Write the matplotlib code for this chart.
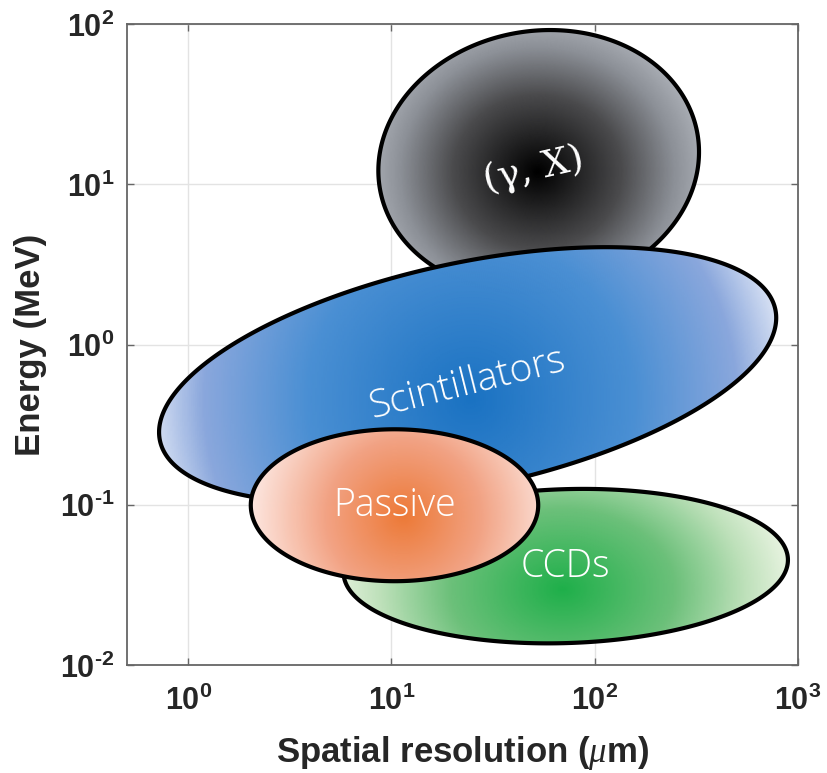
import numpy as np
import matplotlib

matplotlib.use("Agg")
import matplotlib.pyplot as plt
from matplotlib.colors import LinearSegmentedColormap
from matplotlib.patches import Polygon

plt.rcParams["mathtext.fontset"] = "custom"
plt.rcParams["mathtext.bf"] = "Liberation Sans:bold"
plt.rcParams["mathtext.rm"] = "Liberation Sans:bold"
plt.rcParams["mathtext.it"] = "Liberation Serif:italic"

# Detector regions, back to front. Centres in (um, MeV); half-axes in decades,
# tilt measured in log-log space.
names = ["(γ, X)", "Scintillators", "CCDs", "Passive"]
centre_um = [53.0, 23.7, 72.0, 10.35]
centre_mev = [13.9, 0.645, 0.0414, 0.0993]
half_w_dec = [0.836, 1.57, 1.094, 0.707]
half_h_dec = [0.771, 0.69, 0.48, 0.474]
tilt_deg = [59.0, 16.5, 2.5, 0.0]

# Where each shading peaks, and how far (decades in x, y) it takes to fade out
glow_um = [52.4, 24.5, 69.5, 11.5]
glow_mev = [12.0, 0.454, 0.0298, 0.0848]
glow_rx = [0.82, 1.60, 1.10, 0.75]
glow_ry = [0.95, 2.00, 1.00, 0.95]

shades = [
    ["#000000", "#4a4a4c", "#8c9097", "#a9adb4"],
    ["#1a72c2", "#4a8fd3", "#8aa7dc", "#e2e9f7"],
    ["#1faf4a", "#6cc07a", "#bfe1bb", "#e3f1dc"],
    ["#ed7a38", "#f2a283", "#f9cfc0", "#fde6df"],
]
shade_stops = [0.0, 0.5, 0.82, 1.0]

# Label placement (um, MeV), rotation, size
label_um = [50.1, 23.9, 72.0, 10.3]
label_mev = [12.3, 0.57, 0.041, 0.098]
label_rot = [13, 14, 0, 0]
label_size = [27, 28, 27, 27]

x_ticks = [1, 10, 100, 1000]
x_tick_labels = [r"$\mathbf{10^{0}}$", r"$\mathbf{10^{1}}$", r"$\mathbf{10^{2}}$", r"$\mathbf{10^{3}}$"]
y_ticks = [0.01, 0.1, 1, 10, 100]
y_tick_labels = [r"$\mathbf{10^{‐2}}$", r"$\mathbf{10^{‐1}}$", r"$\mathbf{10^{0}}$",
                 r"$\mathbf{10^{1}}$", r"$\mathbf{10^{2}}$"]

AXIS_GREY = "#262626"
SPINE_GREY = "#666666"


def ellipse_outline(cx, cy, hw, hh, tilt, n=500):
    t = np.linspace(0, 2 * np.pi, n)
    u, v = hw * np.cos(t), hh * np.sin(t)
    a = np.deg2rad(tilt)
    lx = np.log10(cx) + u * np.cos(a) - v * np.sin(a)
    ly = np.log10(cy) + u * np.sin(a) + v * np.cos(a)
    return 10 ** lx, 10 ** ly


fig = plt.figure(figsize=(8.27, 7.73), dpi=100, facecolor="white")
ax = fig.add_axes([127 / 827, 108 / 773, 671 / 827, 641 / 773])
ax.set_xscale("log")
ax.set_yscale("log")
ax.set_xlim(0.5, 1000)
ax.set_ylim(0.01, 100)

for i, name in enumerate(names):
    xs, ys = ellipse_outline(centre_um[i], centre_mev[i], half_w_dec[i], half_h_dec[i], tilt_deg[i])
    z = 2 + 2 * i
    outline = Polygon(np.column_stack([xs, ys]), closed=True, facecolor="none",
                      edgecolor="black", lw=3.0, zorder=z + 1)
    ax.add_patch(outline)

    lx = np.linspace(np.log10(xs.min()) - 0.05, np.log10(xs.max()) + 0.05, 300)
    ly = np.linspace(np.log10(ys.min()) - 0.05, np.log10(ys.max()) + 0.05, 300)
    LX, LY = np.meshgrid(lx, ly)
    r = np.hypot((LX - np.log10(glow_um[i])) / glow_rx[i], (LY - np.log10(glow_mev[i])) / glow_ry[i])
    cmap = LinearSegmentedColormap.from_list(f"shade{i}", list(zip(shade_stops, shades[i])))
    mesh = ax.pcolormesh(10 ** lx, 10 ** ly, np.clip(r, 0, 1), cmap=cmap, vmin=0, vmax=1,
                         shading="gouraud", zorder=z, rasterized=True)
    mesh.set_clip_path(outline)

    if i == 0:
        ax.text(label_um[i], label_mev[i], name, color="white", fontsize=label_size[i],
                family="DejaVu Serif", rotation=label_rot[i],
                ha="center", va="center", rotation_mode="anchor", zorder=20)
    else:
        ax.text(label_um[i], label_mev[i], name, color="white", fontsize=label_size[i],
                family="Open Sans", fontweight=300, rotation=label_rot[i],
                ha="center", va="center", rotation_mode="anchor", zorder=20)

ax.set_xticks(x_ticks, x_tick_labels)
ax.set_yticks(y_ticks, y_tick_labels)
ax.minorticks_off()
ax.grid(True, color="#e3e3e3", lw=1.0, zorder=0)
ax.set_axisbelow(True)
ax.tick_params(direction="in", length=5, width=1.0, color=SPINE_GREY,
               top=True, right=True, labelsize=22, labelcolor=AXIS_GREY)
ax.tick_params(axis="x", pad=14)
ax.tick_params(axis="y", pad=9)
for s in ax.spines.values():
    s.set_color(SPINE_GREY)
    s.set_linewidth(1.3)

ax.set_xlabel(r"Spatial resolution ($\mu$m)", fontsize=25, fontweight="bold",
              family="Liberation Sans", color=AXIS_GREY, labelpad=13)
ax.set_ylabel("Energy (MeV)", fontsize=25, fontweight="bold",
              family="Liberation Sans", color=AXIS_GREY, labelpad=9)

fig.savefig("out.png", dpi=100)
